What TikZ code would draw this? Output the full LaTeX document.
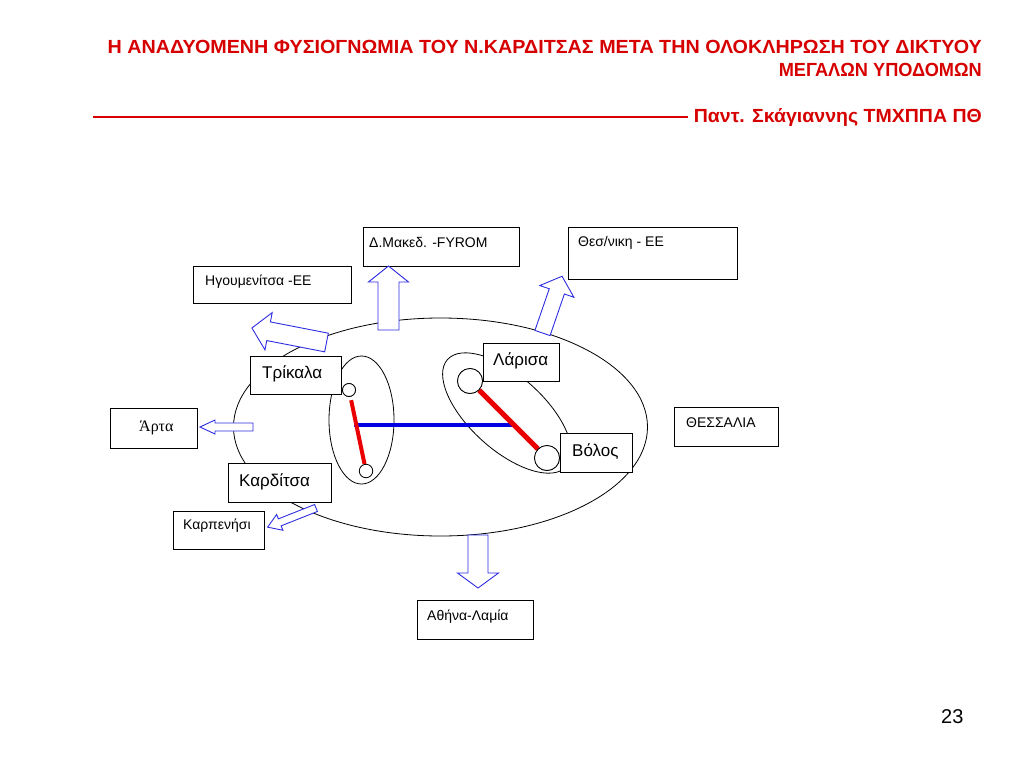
\documentclass[tikz,border=0pt]{standalone}
\usepackage{fontspec}
\usepackage{graphicx}
\setmainfont{Liberation Sans}
\newfontfamily\timesfont{Liberation Serif}
\usetikzlibrary{shapes.geometric,calc,backgrounds}
\definecolor{titlered}{RGB}{214,0,0}
\definecolor{linered}{RGB}{235,0,0}
\definecolor{lineblue}{RGB}{0,0,225}
\definecolor{arrowblue}{RGB}{45,45,225}
\tikzset{
  box/.style={draw=black, fill=white, line width=0.8pt, rectangle, inner sep=0pt, anchor=north west},
  smalltext/.style={font=\fontsize{14}{16}\selectfont, inner sep=0pt, anchor=base west},
  citytext/.style={font=\fontsize{17}{19}\selectfont, inner sep=0pt, anchor=base west},
  titletext/.style={font=\fontsize{19}{21}\selectfont\bfseries, text=titlered, inner sep=0pt, anchor=base east},
  blockarr/.style={draw=arrowblue, fill=white, line width=0.9pt, line join=miter},
  dotnode/.style={circle, draw=black, fill=white, line width=0.8pt, inner sep=0pt},
  outline/.style={draw=black, line width=0.8pt, inner sep=0pt},
  redlink/.style={draw=linered, line width=4.5pt},
  bluelink/.style={draw=lineblue, line width=4.5pt},
}
% #1 base point, #2 angle, #3 length, #4 shaft width, #5 head width, #6 head length
\newcommand{\blockarrow}[6]{\draw[blockarr, shift={#1}, rotate=#2] (0,-#4/2) -- (#3-#6,-#4/2) -- (#3-#6,-#5/2) -- (#3,0) -- (#3-#6,#5/2) -- (#3-#6,#4/2) -- (0,#4/2) -- cycle;}
\begin{document}
\begin{tikzpicture}[x=1pt,y=-1pt]
\useasboundingbox (0,0) rectangle (1024,768);

% title
\node[titletext] (t1) at (982,53) {\resizebox{874pt}{\height}{Η ΑΝΑΔΥΟΜΕΝΗ ΦΥΣΙΟΓΝΩΜΙΑ ΤΟΥ Ν.ΚΑΡΔΙΤΣΑΣ ΜΕΤΑ ΤΗΝ ΟΛΟΚΛΗΡΩΣΗ ΤΟΥ ΔΙΚΤΥΟΥ}};
\node[titletext] (t2) at (982,77) {\resizebox{203pt}{\height}{ΜΕΓΑΛΩΝ ΥΠΟΔΟΜΩΝ}};
\node[titletext] (t3) at (982,122) {\resizebox{288pt}{\height}{Παντ. Σκάγιαννης ΤΜΧΠΠΑ ΠΘ}};
\coordinate (rulestart) at (93,117);
\draw[titlered, line width=2pt] (rulestart) -- ([xshift=-6pt]rulestart -| t3.west);

% circles (town points)
\node[dotnode, minimum size=13pt] (tc1) at (349,390) {};
\node[dotnode, minimum size=13.5pt] (tc2) at (366,471) {};
\node[dotnode, minimum size=25pt] (lc) at (470,381) {};
\node[dotnode, minimum size=25pt] (vc) at (547,458) {};

\begin{scope}[on background layer]
  \node[ellipse, outline, minimum width=414pt, minimum height=218pt] (thes) at (440.5,427) {};
  \node[ellipse, outline, minimum width=65pt, minimum height=128pt] (tkell) at (361.5,420) {};
  \node[ellipse, outline, minimum width=160pt, minimum height=74pt, rotate=-42] (lvell) at (507,413) {};
  \coordinate (b1) at ($(tc1)!0.43!(tc2)$);
  \coordinate (b2) at ($(lc)!0.57!(vc)$);
  \draw[bluelink] (b1) -- (b2 -| b1) -- (b2);
  \draw[redlink, line width=4pt, shorten <=3.5pt] (tc1) -- (tc2);
  \draw[redlink, line width=5pt] (lc) -- (vc);
\end{scope}

% boxes
\node[box, minimum width=156pt, minimum height=39pt] (fyrom) at (363,227) {};
\node[smalltext] (fyromT) at (369,247) {Δ.Μακεδ. -FYROM};
\node[box, minimum width=169pt, minimum height=52pt] (thessal) at (568,227) {};
\node[smalltext] (thessalT) at (578,246) {Θεσ/νικη - ΕΕ};
\node[box, minimum width=158pt, minimum height=37pt] (igou) at (193,266) {};
\node[smalltext] (igouT) at (205,285) {Ηγουμενίτσα -ΕΕ};
\node[box, minimum width=87pt, minimum height=40pt] (arta) at (110,408) {};
\node[inner sep=0pt, anchor=base west, font=\timesfont\fontsize{16}{18}\selectfont] (artaT) at (139,431) {Άρτα};
\node[box, minimum width=91pt, minimum height=38pt] (karp) at (173,511) {};
\node[smalltext] (karpT) at (183,529) {Καρπενήσι};
\node[box, minimum width=104pt, minimum height=39pt] (thessaly) at (674,407) {};
\node[smalltext] (thessalyT) at (686,427) {ΘΕΣΣΑΛΙΑ};
\node[box, minimum width=116pt, minimum height=39pt] (athina) at (417,600) {};
\node[smalltext] (athinaT) at (427,620) {Αθήνα-Λαμία};

\node[box, minimum width=91pt, minimum height=38pt] (trikala) at (250,356) {};
\node[citytext] (trikalaT) at (262,378) {Τρίκαλα};
\node[box, minimum width=103pt, minimum height=39pt] (karditsa) at (228,463) {};
\node[citytext] (karditsaT) at (239,486) {Καρδίτσα};
\node[box, minimum width=76pt, minimum height=38pt] (larisa) at (483,343) {};
\node[citytext] (larisaT) at (493,365) {Λάρισα};
\node[box, minimum width=72pt, minimum height=39pt] (volos) at (560,433) {};
\node[citytext] (volosT) at (572,456) {Βόλος};

% circles drawn again above the boxes they touch
\node[dotnode, minimum size=13pt] at (tc1) {};
\node[dotnode, minimum size=25pt] at (lc) {};
\node[dotnode, minimum size=25pt] at (vc) {};

% block arrows
\blockarrow{(388.5,330)}{90}{64}{21}{40}{16}
\blockarrow{(542.5,333)}{71}{60}{16}{36}{16}
\blockarrow{(326.5,342.5)}{169}{76}{19}{38}{17}
\blockarrow{(253,427)}{180}{53}{8}{14}{15}
\blockarrow{(316,508)}{201.6}{52}{7.5}{17}{13}
\blockarrow{(478,535)}{-90}{53}{20}{41}{15}

% page number
\node[inner sep=0pt, anchor=base west, font=\fontsize{20}{22}\selectfont] (pagenum) at (941,723) {23};
\end{tikzpicture}
\end{document}
